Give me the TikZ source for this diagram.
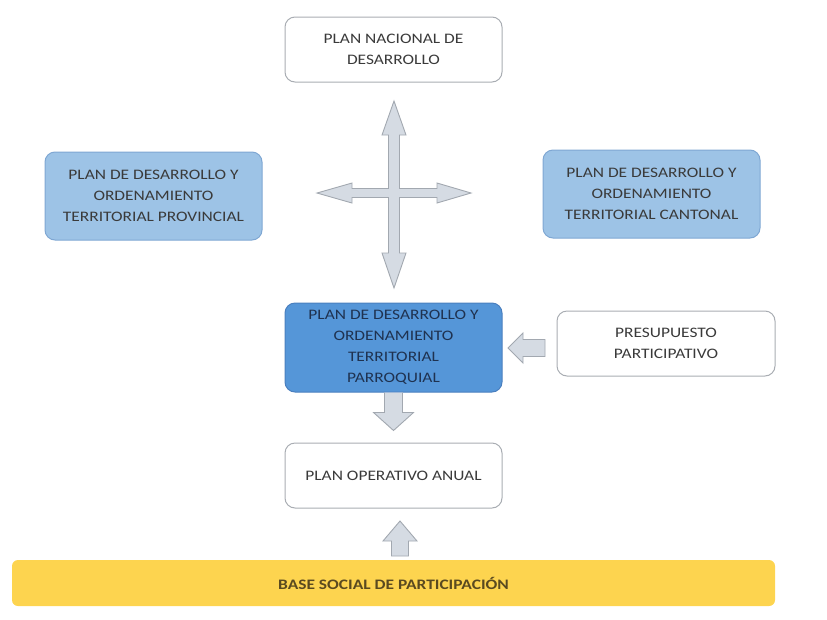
\documentclass[tikz,border=0pt]{standalone}
\usepackage{fontspec}
\setmainfont[FakeStretch=1.2]{Carlito}
\definecolor{txt}{HTML}{3A3A3A}
\definecolor{navy}{HTML}{1F3250}
\definecolor{olive}{HTML}{5A4A20}
\definecolor{grayline}{HTML}{A9ADB3}
\definecolor{lightblue}{HTML}{9DC3E6}
\definecolor{lightblueline}{HTML}{7FA7D3}
\definecolor{midblue}{HTML}{5596D8}
\definecolor{midblueline}{HTML}{4A7FBF}
\definecolor{yellowbar}{HTML}{FDD44F}
\definecolor{arrowfill}{HTML}{D5DBE3}
\definecolor{arrowline}{HTML}{A2A8B0}
\begin{document}
\begin{tikzpicture}[x=1pt,y=-1pt,
  base/.style={rounded corners=10pt, line width=1pt, align=center, inner sep=0pt,
    font=\fontsize{14.5}{21}\selectfont},
  whitebox/.style={base, draw=grayline, fill=white, text=txt},
  paleblue/.style={base, draw=lightblueline, fill=lightblue, text=txt},
  deepblue/.style={base, draw=midblueline, fill=midblue, text=navy},
  yellowbox/.style={base, draw=none, fill=yellowbar, text=olive, rounded corners=6pt,
    font=\fontsize{14.5}{21}\selectfont\bfseries},
  blockarrow/.style={fill=arrowfill, draw=arrowline, line width=0.9pt, line join=miter}
]
\useasboundingbox (0,0) rectangle (827,619);

% boxes
\node[whitebox, minimum width=217pt, minimum height=65pt] (pnd) at (393.5,49.5) {PLAN NACIONAL DE\\DESARROLLO};
\node[paleblue, minimum width=217pt, minimum height=88pt] (prov) at (153.5,196) {PLAN DE DESARROLLO Y\\ORDENAMIENTO\\TERRITORIAL PROVINCIAL};
\node[paleblue, minimum width=217pt, minimum height=88pt] (cant) at (651.5,194) {PLAN DE DESARROLLO Y\\ORDENAMIENTO\\TERRITORIAL CANTONAL};
\node[deepblue, minimum width=217pt, minimum height=89pt] (parr) at (393.5,347.5) {PLAN DE DESARROLLO Y\\ORDENAMIENTO\\TERRITORIAL\\PARROQUIAL};
\node[whitebox, minimum width=218pt, minimum height=65pt] (pres) at (666,343.5) {PRESUPUESTO\\PARTICIPATIVO};
\node[whitebox, minimum width=217pt, minimum height=65pt] (poa) at (393.5,475.5) {PLAN OPERATIVO ANUAL};
\node[yellowbox, minimum width=763pt, minimum height=46pt] (base) at (393.5,583) {BASE SOCIAL DE PARTICIPACIÓN};

% cross arrow
\coordinate (c) at (394,193);
\draw[blockarrow] (394,101) -- (406,135) -- (399.5,135) -- (399.5,188.5) -- (437,188.5) -- (437,183) -- (471,193)
  -- (437,203) -- (437,197.5) -- (399.5,197.5) -- (399.5,253) -- (406,253) -- (394,288) -- (382,253) -- (388.5,253)
  -- (388.5,197.5) -- (352,197.5) -- (352,203) -- (317,193) -- (352,183) -- (352,188.5) -- (388.5,188.5)
  -- (388.5,135) -- (382,135) -- cycle;

% down arrow parr -> poa
\draw[blockarrow] ([xshift=-9pt]parr.south) -- ([xshift=-9pt,yshift=-20pt]parr.south) -- ([xshift=-20pt,yshift=-20pt]parr.south)
  -- ([yshift=-38pt]parr.south) -- ([xshift=20pt,yshift=-20pt]parr.south) -- ([xshift=9pt,yshift=-20pt]parr.south)
  -- ([xshift=9pt]parr.south);

% left arrow pres -> parr
\coordinate (la) at (508,348);
\draw[blockarrow] (la) -- ++(15,-15) -- ++(0,6.5) -- ++(22,0) -- ++(0,17) -- ++(-22,0) -- ++(0,6.5) -- cycle;

% up arrow base -> poa
\coordinate (ua) at (400,521);
\draw[blockarrow] (ua) -- ++(17,20) -- ++(-8.5,0) -- ++(0,15) -- ++(-17,0) -- ++(0,-15) -- ++(-8.5,0) -- cycle;
\end{tikzpicture}
\end{document}
